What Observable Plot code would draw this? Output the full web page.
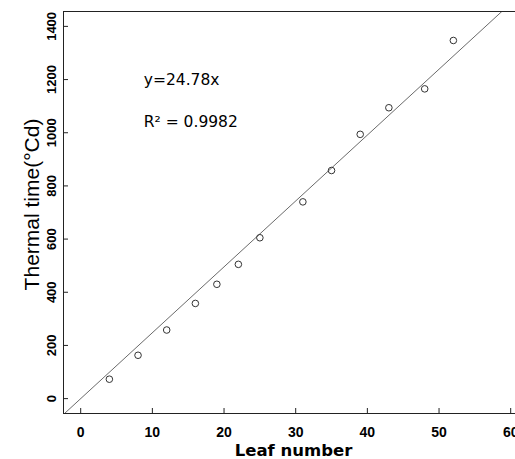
<!DOCTYPE html>
<html>
<head>
<meta charset="utf-8">
<script src="https://cdn.jsdelivr.net/npm/d3@7"></script>
<script src="https://cdn.jsdelivr.net/npm/@observablehq/plot@0.6"></script>
<style>
  html, body { margin: 0; padding: 0; background: #fff; overflow: hidden; }
  #chart { width: 515px; height: 459px; }
</style>
</head>
<body>
<div id="chart"></div>
<script>
// ---- data ----
const leafNumber  = [4, 8, 12, 16, 19, 22, 25, 31, 35, 39, 43, 48, 52];
const thermalTime = [73, 163, 258, 358, 430, 505, 605, 740, 858, 994, 1094, 1165, 1347];
const slope = 24.78;
const rSquared = 0.9982;
const xTicks = [0, 10, 20, 30, 40, 50, 60];
const yTicks = [0, 200, 400, 600, 800, 1000, 1200, 1400];
const xLabel = "Leaf number";
const yLabel = "Thermal time(°Cd)";
const eqLabel = `y=${slope}x`;
const r2Label = `R² = ${rSquared}`;

// ---- layout ----
const W = 515, H = 459;
const mL = 63, mR = 0, mT = 11, mB = 46;
const xDomain = [-2.4, 60.67];
const yDomain = [-56, 1456];
const plotW = W - mL - mR, plotH = H - mT - mB;
const eqPos = {x: 8.8, y: 1200};
const r2Pos = {x: 8.8, y: 1040};

const points = leafNumber.map((x, i) => ({x, y: thermalTime[i]}));
const fitLine = [xDomain[0] - 1, xDomain[1] + 1].map(x => ({x, y: slope * x}));

const sans = "'Liberation Sans', Arial, sans-serif";
const dejavu = "'DejaVu Sans', sans-serif";

const chart = Plot.plot({
  width: W, height: H,
  marginLeft: mL, marginRight: mR, marginTop: mT, marginBottom: mB,
  style: {fontFamily: sans, color: "#000", background: "#fff", overflow: "hidden"},
  x: {domain: xDomain, axis: null},
  y: {domain: yDomain, axis: null},
  marks: [
    // regression line
    Plot.line(fitLine, {x: "x", y: "y", stroke: "#6a6a6a", strokeWidth: 1, clip: true}),
    // observations
    Plot.dot(points, {x: "x", y: "y", r: 3.3, stroke: "#333", strokeWidth: 1, fill: "none"}),
    // box (top, left, bottom)
    Plot.ruleY([yDomain[1]], {stroke: "#222", strokeWidth: 1}),
    Plot.ruleY([yDomain[0]], {stroke: "#222", strokeWidth: 1}),
    Plot.ruleX([xDomain[0]], {stroke: "#222", strokeWidth: 1}),
    // inward ticks
    Plot.tickX(xTicks, {x: d => d, insetTop: plotH - 5, stroke: "#222"}),
    Plot.tickY(yTicks, {y: d => d, insetRight: plotW - 5, stroke: "#222"}),
    // tick labels
    Plot.text(xTicks, {x: d => d, text: d => String(d), frameAnchor: "bottom", dy: 19,
      textAnchor: "middle", lineAnchor: "middle", fontWeight: "bold", fontSize: 14, fill: "#000"}),
    Plot.text(yTicks, {y: d => d, text: d => String(d), frameAnchor: "left", dx: -12,
      rotate: -90, textAnchor: "middle", lineAnchor: "middle", fontWeight: "bold", fontSize: 13, fill: "#000"}),
    // axis titles
    Plot.text([xLabel], {text: d => d, frameAnchor: "bottom", dy: 37, dx: 4,
      textAnchor: "middle", lineAnchor: "middle",
      fontFamily: dejavu, fontWeight: "bold", fontSize: 16.5, fill: "#000"}),
    Plot.text([yLabel], {text: d => d, frameAnchor: "left", dx: -31, dy: -8, rotate: -90,
      textAnchor: "middle", lineAnchor: "middle", fontSize: 21, fill: "#000"}),
    // annotations
    Plot.text([eqLabel], {x: eqPos.x, y: eqPos.y, text: d => d, textAnchor: "start", lineAnchor: "middle",
      fontFamily: dejavu, fontSize: 15.5, fill: "#000"}),
    Plot.text([r2Label], {x: r2Pos.x, y: r2Pos.y, text: d => d, textAnchor: "start", lineAnchor: "middle",
      fontFamily: dejavu, fontSize: 15.5, fill: "#000"})
  ]
});
document.getElementById("chart").appendChild(chart);
</script>
</body>
</html>
